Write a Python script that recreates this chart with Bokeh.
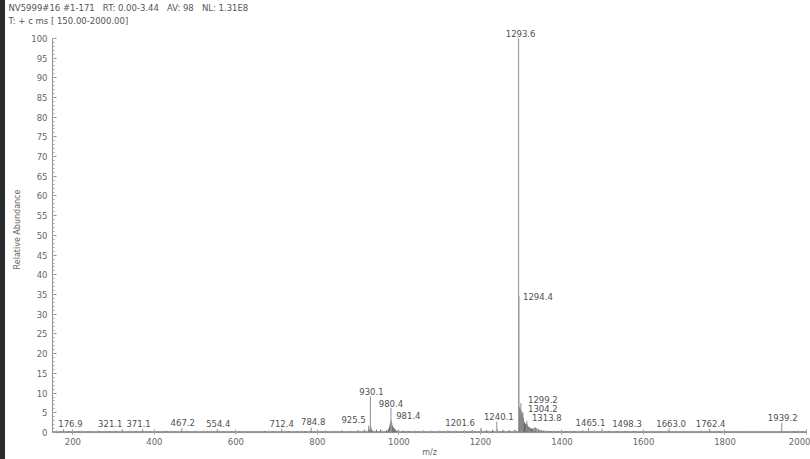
from bokeh.plotting import figure
from bokeh.models import (ColumnDataSource, LabelSet, SingleIntervalTicker, Title, Range1d, Div)
from bokeh.core.properties import value
from bokeh.layouts import row
from bokeh.embed import file_html
from bokeh.resources import INLINE

# ---- data ----
label_mz = [176.9, 321.1, 371.1, 467.2, 554.4, 712.4, 784.8, 925.5, 930.1, 980.4,
            981.4, 1201.6, 1240.1, 1293.6, 1294.4, 1299.2, 1304.2, 1313.8, 1465.1,
            1498.3, 1663.0, 1762.4, 1939.2]
label_int = [0.8, 0.8, 0.8, 1.1, 0.9, 1.0, 1.3, 1.8, 9.2, 6.2,
             3.2, 1.2, 2.7, 100.0, 34.6, 7.5, 5.2, 2.9, 1.2,
             1.0, 1.0, 0.9, 2.5]
label_text = ["176.9", "321.1", "371.1", "467.2", "554.4", "712.4", "784.8", "925.5",
              "930.1", "980.4", "981.4", "1201.6", "1240.1", "1293.6", "1294.4",
              "1299.2", "1304.2", "1313.8", "1465.1", "1498.3", "1663.0", "1762.4",
              "1939.2"]
# label placement offsets (pixels)
label_dx = [7, -12, -4, 1, 1, 0, 2, -15, 1, 0,
            17, -21, 2, 2, 19, 22, 20, 20, 2,
            25, 2, 1, 1]
label_dy = [2, 2, 2, 2, 2, 2, 2, 2, 1, 1,
            1, 2, 2, 1, -4, 0, 0, 0, 2,
            2, 2, 2, 2]

minor_mz = [926.2, 928.0, 931.1, 932.0, 935.0,
            970.0, 974.0, 976.5, 978.0, 979.3, 982.4, 983.5, 985.0, 987.0, 989.0, 992.0, 995.0, 1000.0,
            1241.1,
            1295.3, 1296.2, 1297.3, 1298.2, 1300.2, 1301.3, 1302.2, 1303.2, 1305.3, 1306.2, 1307.4,
            1308.3, 1309.2, 1310.4, 1311.3, 1312.6, 1315.2, 1317.0, 1319.0, 1321.0, 1323.0, 1325.0,
            1328.0, 1331.0, 1334.0, 1336.0, 1339.0, 1342.0, 1346.0, 1350.0, 1355.0, 1360.0, 1366.0,
            1372.0, 1380.0,
            160, 190, 215, 240, 262, 290, 305, 340, 355, 390, 410, 430, 450, 480, 500, 520, 540,
            570, 590, 610, 630, 650, 670, 690, 730, 750, 770, 800, 820, 840, 860, 880, 900, 915,
            945, 955, 1010, 1025, 1040, 1060, 1080, 1100, 1120, 1140, 1160, 1180, 1215, 1230, 1255,
            1270, 1285, 1390, 1410, 1430, 1450, 1480, 1515, 1535, 1555, 1575, 1600, 1620, 1640,
            1680, 1700, 1720, 1740, 1780, 1800, 1820, 1840, 1860, 1880, 1900, 1920, 1950, 1970, 1990]
minor_int = [1.2, 0.8, 1.5, 0.9, 0.5,
             0.6, 0.9, 1.4, 2.0, 2.6, 2.4, 1.8, 1.5, 1.2, 1.0, 0.7, 0.5, 0.4,
             0.8,
             6.5, 4.5, 5.5, 6.0, 5.5, 4.5, 4.2, 4.8, 3.8, 3.0, 2.6,
             2.4, 2.2, 2.0, 2.1, 2.4, 2.0, 1.6, 1.4, 1.2, 1.1, 1.0,
             1.0, 1.1, 1.3, 1.2, 1.0, 0.8, 0.7, 0.6, 0.5, 0.5, 0.4,
             0.4, 0.3,
             0.3, 0.4, 0.3, 0.3, 0.4, 0.3, 0.4, 0.3, 0.4, 0.3, 0.3, 0.4, 0.3, 0.4, 0.3, 0.3, 0.4,
             0.3, 0.3, 0.4, 0.3, 0.3, 0.4, 0.3, 0.4, 0.3, 0.4, 0.4, 0.5, 0.4, 0.5, 0.4, 0.6, 0.7,
             0.7, 0.8, 0.5, 0.4, 0.4, 0.5, 0.4, 0.4, 0.5, 0.4, 0.5, 0.6, 0.6, 0.7, 0.7,
             0.6, 0.7, 0.4, 0.4, 0.4, 0.5, 0.4, 0.4, 0.3, 0.4, 0.3, 0.4, 0.3, 0.3,
             0.3, 0.4, 0.3, 0.3, 0.3, 0.4, 0.3, 0.3, 0.3, 0.3, 0.3, 0.3, 0.3, 0.4, 0.3, 0.3]

NB = "\u00a0"
header1 = ("NV5999#16 #1-171" + NB * 3 + "RT: 0.00-3.44" + NB * 3 + "AV: 98" + NB * 3 + "NL: 1.31E8")
header2 = "T: + c ms [ 150.00-2000.00]"
x_label = "m/z"
y_label = "Relative Abundance"

FONT = "DejaVu Sans"
GRAY = "#666666"

p = figure(width=805, height=459, output_backend="svg", toolbar_location=None,
           x_range=Range1d(150, 2000), y_range=Range1d(0, 103),
           min_border_left=47, min_border_right=4, min_border_top=25, min_border_bottom=23)
p.title = None
p.grid.visible = False
p.outline_line_color = None
p.background_fill_color = "white"
p.border_fill_color = "white"

# spectrum
p.segment(x0=minor_mz, y0=[0] * len(minor_mz), x1=minor_mz, y1=minor_int,
          line_color="#6a6a6a", line_width=1)
p.segment(x0=label_mz, y0=[0] * len(label_mz), x1=label_mz, y1=label_int,
          line_color="#9a9a9a", line_width=1.1)
# baseline noise band
p.segment(x0=[150], y0=[0.15], x1=[2000], y1=[0.15], line_color="#7a7a7a", line_width=1.2)

src = ColumnDataSource(dict(x=label_mz, y=label_int, text=label_text, dx=label_dx, dy=label_dy))
labels = LabelSet(x="x", y="y", text="text", source=src, x_offset="dx", y_offset="dy",
                  text_align="center", text_baseline="bottom", text_font=value(FONT),
                  text_font_size=value("8.5px"), text_color="#505050")
p.add_layout(labels)

xa = p.xaxis[0]
xa.ticker = SingleIntervalTicker(interval=200, num_minor_ticks=10)
ya = p.yaxis[0]
ya.ticker = SingleIntervalTicker(interval=5, num_minor_ticks=5)
ya.bounds = (0, 100)
for ax in (xa, ya):
    ax.axis_line_color = "#909090"
    ax.major_tick_line_color = "#909090"
    ax.minor_tick_line_color = "#a8a8a8"
    ax.major_label_text_font = FONT
    ax.major_label_text_font_size = "8.5px"
    ax.major_label_text_color = GRAY
    ax.axis_label_text_font = FONT
    ax.axis_label_text_font_style = "normal"
    ax.axis_label_text_color = GRAY
    ax.axis_label_text_font_size = "8px"
xa.major_tick_in = 3
xa.major_tick_out = 2
xa.minor_tick_in = 2
xa.minor_tick_out = 1
xa.major_label_standoff = 3
xa.axis_label = x_label
xa.axis_label_standoff = 0
ya.major_tick_in = 4
ya.major_tick_out = 0
ya.minor_tick_in = 2
ya.minor_tick_out = 0
ya.major_label_standoff = 5
ya.axis_label = y_label
ya.axis_label_standoff = 6

t2 = Title(text=header2, align="left", offset=-44, text_font=FONT, text_font_size="8.5px",
           text_font_style="normal", text_color="#555555", standoff=2)
t1 = Title(text=header1, align="left", offset=-44, text_font=FONT, text_font_size="8.5px",
           text_font_style="normal", text_color="#555555", standoff=0)
p.add_layout(t2, "above")
p.add_layout(t1, "above")

strip = Div(width=5, height=459, margin=0, styles={"background-color": "#2a2a2a"})
layout = row(strip, p, spacing=0)

open("out.html", "w").write(file_html(layout, INLINE))
